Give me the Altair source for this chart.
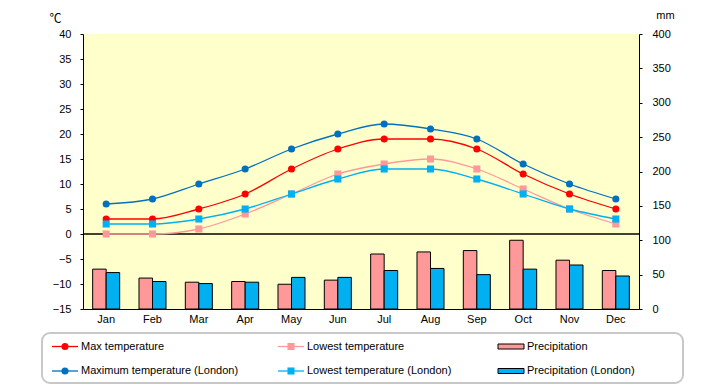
import altair as alt
import pandas as pd

FONT = "Liberation Sans"

MONTHS = ["Jan", "Feb", "Mar", "Apr", "May", "Jun", "Jul", "Aug", "Sep", "Oct", "Nov", "Dec"]
MAX_TEMP = [3, 3, 5, 8, 13, 17, 19, 19, 17, 12, 8, 5]
MIN_TEMP = [0, 0, 1, 4, 8, 12, 14, 15, 13, 9, 5, 2]
PRECIP = [58, 45, 39, 40, 36, 42, 80, 83, 85, 100, 71, 56]
MAX_TEMP_LON = [6, 7, 10, 13, 17, 20, 22, 21, 19, 14, 10, 7]
MIN_TEMP_LON = [2, 2, 3, 5, 8, 11, 13, 13, 11, 8, 5, 3]
PRECIP_LON = [53, 40, 37, 39, 46, 46, 56, 59, 50, 58, 64, 48]

SERIES = ["Max temperature", "Lowest temperature", "Precipitation",
          "Maximum temperature (London)", "Lowest temperature (London)", "Precipitation (London)"]
COLORS = ["#FF0000", "#FF9999", "#FF9999", "#0070C0", "#00B0F0", "#00B0F0"]
KINDS = ["circle", "square", "bar", "circle", "square", "bar"]
TEMP_SERIES = [SERIES[0], SERIES[1], SERIES[3], SERIES[4]]
TEMP_SHAPES = ["circle", "square", "circle", "square"]

temp_rows = []
for s, vals in [(SERIES[0], MAX_TEMP), (SERIES[1], MIN_TEMP),
                (SERIES[3], MAX_TEMP_LON), (SERIES[4], MIN_TEMP_LON)]:
    for m, v in zip(MONTHS, vals):
        temp_rows.append({"month": m, "series": s, "value": v})
temp_df = pd.DataFrame(temp_rows)

prec_rows = []
for s, vals in [(SERIES[2], PRECIP), (SERIES[5], PRECIP_LON)]:
    for m, v in zip(MONTHS, vals):
        prec_rows.append({"month": m, "series": s, "value": v})
prec_df = pd.DataFrame(prec_rows)

leg_df = pd.DataFrame({
    "label": SERIES,
    "series": SERIES,
    "kind": KINDS,
    "col": [i % 3 for i in range(len(SERIES))],
    "row": [i // 3 for i in range(len(SERIES))],
})

color_scale = alt.Scale(domain=SERIES, range=COLORS)
shape_scale = alt.Scale(domain=TEMP_SERIES, range=TEMP_SHAPES)

x_enc = alt.X(
    "month:N", sort=MONTHS,
    scale=alt.Scale(paddingInner=0.417, paddingOuter=0.2085),
    axis=alt.Axis(title=None, labelAngle=0, ticks=False, domainColor="black",
                  labelPadding=4, labelFont=FONT, labelFontSize=11, labelColor="black"),
)

y_temp = alt.Y(
    "value:Q",
    scale=alt.Scale(domain=[-15, 40], nice=False),
    axis=alt.Axis(orient="left", values=list(range(-15, 45, 5)), grid=False,
                  title="℃", titleAngle=0, titleX=-28, titleY=-16, titleAlign="center",
                  titleBaseline="middle", titleFont="Noto Sans CJK JP", titleFontSize=12,
                  titleFontWeight="normal", titleColor="black",
                  tickSize=3, tickColor="black", domainColor="black", labelPadding=9,
                  labelFont=FONT, labelFontSize=11, labelColor="black"),
)

y_prec = alt.Y(
    "value:Q",
    scale=alt.Scale(domain=[0, 400], nice=False),
    axis=alt.Axis(orient="right", values=list(range(0, 450, 50)), grid=False,
                  title="mm", titleAngle=0, titleX=26, titleY=-16, titleAlign="center",
                  titleBaseline="alphabetic", titleFont=FONT, titleFontSize=11,
                  titleFontWeight="normal", titleColor="black",
                  tickSize=3, tickColor="black", domainColor="black", labelPadding=10,
                  labelFont=FONT, labelFontSize=11, labelColor="black"),
)

bars = alt.Chart(prec_df).mark_bar(stroke="black", strokeWidth=1, opacity=1).encode(
    x=x_enc,
    xOffset=alt.XOffset("series:N", sort=[SERIES[2], SERIES[5]],
                        scale=alt.Scale(paddingInner=0, paddingOuter=0)),
    y=y_prec,
    color=alt.Color("series:N", scale=color_scale, legend=None),
)

zero = alt.Chart(pd.DataFrame({"value": [0]})).mark_rule(color="black", strokeWidth=1.3).encode(
    y=y_temp
)

lines = alt.Chart(temp_df).mark_line(interpolate="monotone", strokeWidth=1.3).encode(
    x=x_enc, y=y_temp,
    color=alt.Color("series:N", scale=color_scale, legend=None),
)

points = alt.Chart(temp_df).mark_point(filled=True, size=50, opacity=1).encode(
    x=x_enc, y=y_temp,
    color=alt.Color("series:N", scale=color_scale, legend=None),
    shape=alt.Shape("series:N", scale=shape_scale, legend=None),
)

main = alt.layer(bars, alt.layer(zero, lines, points)).resolve_scale(y="independent")

# custom legend
lx = alt.X("col:Q", scale=alt.Scale(domain=[0, 1, 2], range=[-31, 195, 415]), axis=None)
ly = alt.Y("row:Q", scale=alt.Scale(domain=[0, 1], range=[312.5, 337]), axis=None)

box = alt.Chart(pd.DataFrame({"a": [0]})).mark_rect(
    fill="white", stroke="#C8C8C8", strokeWidth=2, cornerRadius=8
).encode(x=alt.value(-41), x2=alt.value(600), y=alt.value(299), y2=alt.value(349))

leg_lines = alt.Chart(leg_df).transform_filter("datum.kind != 'bar'").mark_rule(
    strokeWidth=1.3, x2Offset=26
).encode(x=lx, x2="col:Q", y=ly,
         color=alt.Color("series:N", scale=color_scale, legend=None))

leg_pts = alt.Chart(leg_df).transform_filter("datum.kind != 'bar'").mark_point(
    filled=True, size=50, opacity=1, xOffset=13
).encode(x=lx, y=ly,
         color=alt.Color("series:N", scale=color_scale, legend=None),
         shape=alt.Shape("series:N", scale=shape_scale, legend=None))

leg_bars = alt.Chart(leg_df).transform_filter("datum.kind == 'bar'").mark_rect(
    stroke="black", strokeWidth=1, x2Offset=26, yOffset=-2.5, y2Offset=2.5
).encode(x=lx, x2="col:Q", y=ly, y2="row:Q",
         color=alt.Color("series:N", scale=color_scale, legend=None))

leg_text = alt.Chart(leg_df).mark_text(
    align="left", baseline="middle", dx=29, font=FONT, fontSize=11, color="black"
).encode(x=lx, y=ly, text="label:N")

legend = alt.layer(box, leg_lines, leg_pts, leg_bars, leg_text)

chart = alt.layer(main, legend).resolve_scale(x="independent", y="independent").properties(
    width=556, height=275,
    autosize=alt.AutoSizeParams(type="none"),
    padding={"left": 75, "top": 26, "right": 73, "bottom": 76},
    background="white",
).configure_view(stroke=None, fill="#FFFFCC")

chart.save("out.html", embed_options={"renderer": "svg", "actions": False})
